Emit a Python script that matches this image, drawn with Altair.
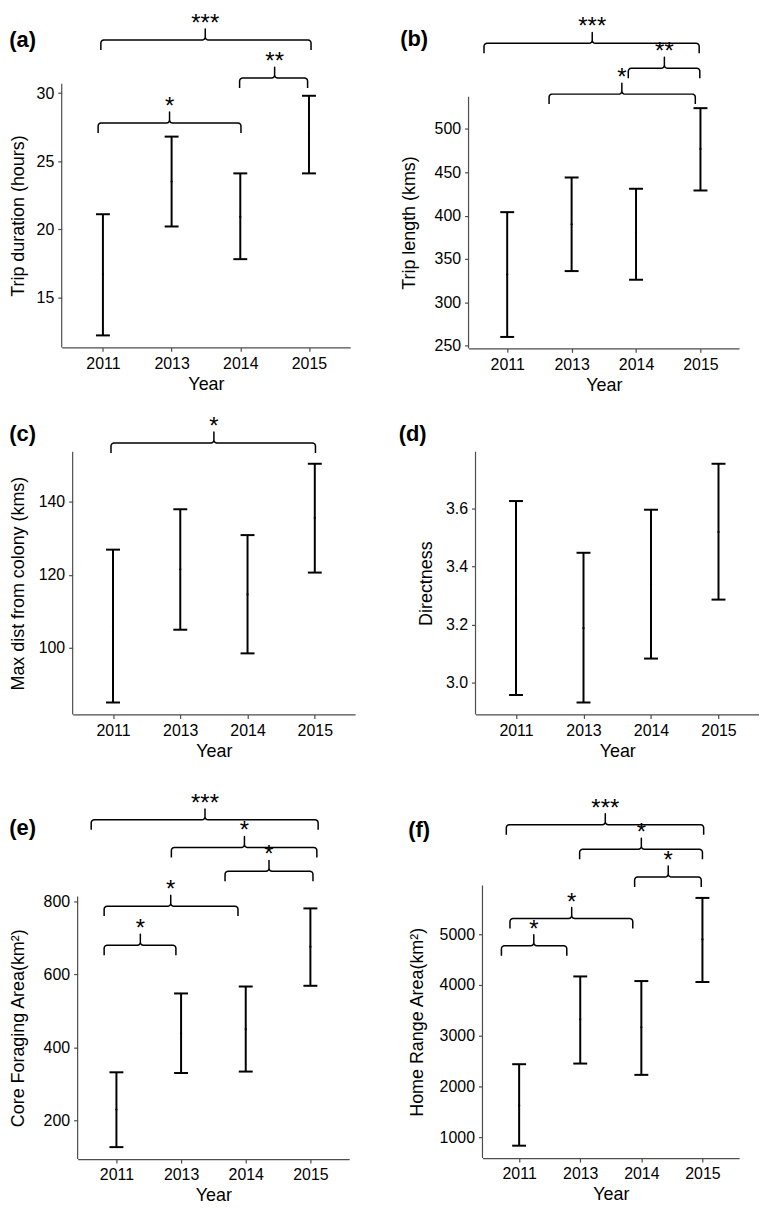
import math
import altair as alt
import pandas as pd

FONT = "Liberation Sans"
AXIS_COLOR = "#4d4d4d"

YEARS = ["2011", "2013", "2014", "2015"]
XPOS = [1, 2, 3, 4]
XMIN, XMAX = 0.4, 4.6

# (a) Trip duration (hours)
A_MEAN = [16.7, 23.5, 20.9, 27.0]
A_LOW = [12.2, 20.2, 17.8, 24.1]
A_UP = [21.1, 26.8, 24.1, 29.8]
A_TICKS = [15, 20, 25, 30]
A_BR_X1 = [0.97, 2.99, 0.93]
A_BR_X2 = [4.03, 3.98, 3.01]
A_BR_XP = [2.49, 3.50, 1.97]
A_BR_LV = [33.9, 31.1, 27.8]
A_BR_LAB = ["***", "**", "*"]

# (b) Trip length (kms)
B_MEAN = [332, 390, 380, 477]
B_LOW = [260, 336, 326, 429]
B_UP = [404, 444, 431, 524]
B_TICKS = [250, 300, 350, 400, 450, 500]
B_BR_X1 = [0.64, 2.88, 1.65]
B_BR_X2 = [3.98, 3.99, 3.92]
B_BR_XP = [2.32, 3.44, 2.78]
B_BR_LV = [598.8, 570.1, 540.2]
B_BR_LAB = ["***", "**", "*"]

# (c) Max dist from colony (kms)
C_MEAN = [105.8, 121.5, 114.6, 135.6]
C_LOW = [84.9, 104.9, 98.4, 120.6]
C_UP = [126.9, 138.0, 130.9, 150.5]
C_TICKS = [100, 120, 140]
C_BR_X1 = [0.97]
C_BR_X2 = [4.01]
C_BR_XP = [2.50]
C_BR_LV = [156.2]
C_BR_LAB = ["*"]

# (d) Directness
D_MEAN = [3.29, 3.187, 3.339, 3.52]
D_LOW = [2.956, 2.930, 3.082, 3.286]
D_UP = [3.627, 3.448, 3.597, 3.756]
D_TICKS = [3.0, 3.2, 3.4, 3.6]

# (e) Core Foraging Area
E_MEAN = [230, 439, 450, 676]
E_LOW = [127, 330, 334, 569]
E_UP = [332, 548, 567, 781]
E_TICKS = [200, 400, 600, 800]
E_BR_X1 = [0.61, 1.85, 2.68, 0.81, 0.81]
E_BR_X2 = [4.12, 4.10, 4.04, 2.88, 1.92]
E_BR_XP = [2.37, 2.98, 3.36, 1.84, 1.37]
E_BR_LV = [1023.6, 948.0, 882.6, 787.1, 680.0]
E_BR_LAB = ["***", "*", "*", "*", "*"]

# (f) Home Range Area
F_MEAN = [1623, 3320, 3163, 4895]
F_LOW = [830, 2449, 2226, 4056]
F_UP = [2436, 4166, 4075, 5714]
F_TICKS = [1000, 2000, 3000, 4000, 5000]
F_BR_X1 = [0.79, 1.99, 2.89, 0.85, 0.71]
F_BR_X2 = [4.02, 4.00, 3.98, 2.86, 1.78]
F_BR_XP = [2.41, 3.00, 3.44, 1.86, 1.24]
F_BR_LV = [7156, 6672, 6127, 5307, 4770]
F_BR_LAB = ["***", "*", "*", "*", "*"]

# brace styling (pixels)
DROP_PX, RISE_PX, CORNER_PX = 10, 11, 3

LABEL_EXPR = "[" + ",".join("'%s'" % y for y in YEARS) + "][datum.value - 1]"


def brace_points(x1, x2, xp, lv, xu, yu, n=4):
    rx, ry = CORNER_PX * xu, CORNER_PX * yu
    drop, rise = DROP_PX * yu, RISE_PX * yu
    pts = [(x1, lv - drop)]
    for j in range(n + 1):
        t = math.pi - (math.pi / 2) * j / n
        pts.append((x1 + rx + rx * math.cos(t), lv - ry + ry * math.sin(t)))
    for j in range(n + 1):
        t = 1.5 * math.pi + (math.pi / 2) * j / n
        pts.append((xp - rx + rx * math.cos(t), lv + ry + ry * math.sin(t)))
    pts.append((xp, lv + rise))
    for j in range(n + 1):
        t = math.pi + (math.pi / 2) * j / n
        pts.append((xp + rx + rx * math.cos(t), lv + ry + ry * math.sin(t)))
    for j in range(n + 1):
        t = math.pi / 2 - (math.pi / 2) * j / n
        pts.append((x2 - rx + rx * math.cos(t), lv - ry + ry * math.sin(t)))
    pts.append((x2, lv - drop))
    return pts


def panel(tag, ytitle, mean, low, up, yticks, yfmt, brk, W, Hd, Hh, tpad, toff, tdx=0):
    lo_d, hi_d = min(low), max(up)
    pad = 0.05 * (hi_d - lo_d)
    lo, hi = lo_d - pad, hi_d + pad
    yu = (hi - lo) / Hd
    top = hi + Hh * yu
    xu = (XMAX - XMIN) / W
    H = Hd + Hh

    xsc = alt.Scale(domain=[XMIN, XMAX], nice=False, zero=False)
    ysc = alt.Scale(domain=[lo, top], nice=False, zero=False)
    xax = alt.Axis(values=XPOS, labelExpr=LABEL_EXPR, title="Year", grid=False,
                   tickSize=4, labelPadding=4, titlePadding=4)
    yax = alt.Axis(values=yticks, format=yfmt, title=ytitle, domain=False, grid=False,
                   tickSize=4, labelPadding=4, titlePadding=tpad, titleY=Hh + Hd / 2)

    def X(f):
        return alt.X(f, type="quantitative", scale=xsc, axis=xax)

    def Y(f):
        return alt.Y(f, type="quantitative", scale=ysc, axis=yax)

    df = pd.DataFrame({"x": XPOS, "mean": mean, "low": low, "up": up})
    base = alt.Chart(df)
    bars = base.mark_rule(color="black", strokeWidth=2).encode(x=X("x"), y=Y("low"), y2="up")
    cap_lo = base.mark_tick(orient="horizontal", color="black", size=14, thickness=2,
                            opacity=1).encode(x=X("x"), y=Y("low"))
    cap_up = base.mark_tick(orient="horizontal", color="black", size=14, thickness=2,
                            opacity=1).encode(x=X("x"), y=Y("up"))
    dots = base.mark_circle(color="black", size=5, opacity=1).encode(x=X("x"), y=Y("mean"))

    axis_df = pd.DataFrame({"x": [XMIN], "lo": [lo], "hi": [hi]})
    yline = alt.Chart(axis_df).mark_rule(color=AXIS_COLOR, strokeWidth=1.2).encode(
        x=X("x"), y=Y("lo"), y2="hi")

    layers = [yline, bars, cap_lo, cap_up, dots]

    if brk is not None:
        x1s, x2s, xps, lvs, labs = brk
        rows, trows = [], []
        for i, (x1, x2, xp, lv, lab) in enumerate(zip(x1s, x2s, xps, lvs, labs)):
            for k, (px, py) in enumerate(brace_points(x1, x2, xp, lv, xu, yu)):
                rows.append({"b": i, "o": k, "x": px, "y": py})
            trows.append({"x": xp, "y": lv + RISE_PX * yu, "lab": lab})
        bdf = pd.DataFrame(rows)
        tdf = pd.DataFrame(trows)
        line = alt.Chart(bdf).mark_line(color="black", strokeWidth=1.5, strokeJoin="round").encode(
            x=X("x"), y=Y("y"), detail="b:N", order="o:Q")
        txt = alt.Chart(tdf).mark_text(baseline="alphabetic", fontSize=24, font=FONT, dy=2,
                                       color="black").encode(x=X("x"), y=Y("y"), text="lab:N")
        layers += [line, txt]

    return alt.layer(*layers).properties(
        width=W, height=H,
        title=alt.TitleParams(tag, anchor="start", frame="bounds", offset=toff, dx=tdx,
                              fontSize=22, fontWeight="bold", font=FONT, color="black"),
    )


def spacer(w):
    sdf = pd.DataFrame({"v": [0]})
    return alt.Chart(sdf).mark_point(opacity=0, size=1).encode(
        x=alt.X("v:Q", axis=None), y=alt.Y("v:Q", axis=None)
    ).properties(width=w, height=1)


pa = panel("(a)", "Trip duration (hours)", A_MEAN, A_LOW, A_UP, A_TICKS, "d",
           (A_BR_X1, A_BR_X2, A_BR_XP, A_BR_LV, A_BR_LAB), 290, 265, 73, 9, -41.5)
pb = panel("(b)", "Trip length (kms)", B_MEAN, B_LOW, B_UP, B_TICKS, "d",
           (B_BR_X1, B_BR_X2, B_BR_XP, B_BR_LV, B_BR_LAB), 272, 253, 86, 16, -40)
pc = panel("(c)", "Max dist from colony (kms)", C_MEAN, C_LOW, C_UP, C_TICKS, "d",
           (C_BR_X1, C_BR_X2, C_BR_XP, C_BR_LV, C_BR_LAB), 284, 264, 41, 11, -35)
pd_ = panel("(d)", "Directness", D_MEAN, D_LOW, D_UP, D_TICKS, ".1f",
            None, 285, 264, 41, 10, -35, -19)
pe = panel("(e)", "Core Foraging Area(km²)", E_MEAN, E_LOW, E_UP, E_TICKS, "d",
           (E_BR_X1, E_BR_X2, E_BR_XP, E_BR_LV, E_BR_LAB), 273, 264, 107, 16, -50)
pf = panel("(f)", "Home Range Area(km²)", F_MEAN, F_LOW, F_UP, F_TICKS, "d",
           (F_BR_X1, F_BR_X2, F_BR_XP, F_BR_LV, F_BR_LAB), 258, 274, 96, 13, -52)

row1 = alt.hconcat(alt.hconcat(spacer(1), pa, spacing=0), pb, spacing=50)
row2 = alt.hconcat(alt.hconcat(spacer(1), pc, spacing=0), pd_, spacing=43)
row3 = alt.hconcat(alt.hconcat(spacer(1), pe, spacing=0), pf, spacing=59)

chart = alt.vconcat(alt.vconcat(row1, row2, spacing=17), row3, spacing=30).properties(
    padding=0, background="white"
).configure_view(stroke=None).configure_axis(
    labelFont=FONT, titleFont=FONT, labelFontSize=16, titleFontSize=18,
    titleFontWeight="normal", labelColor="black", titleColor="black",
    domainColor=AXIS_COLOR, tickColor=AXIS_COLOR, domainWidth=1.2, tickWidth=1.2,
)

chart.save("out.html", embed_options={"renderer": "svg", "actions": False})
